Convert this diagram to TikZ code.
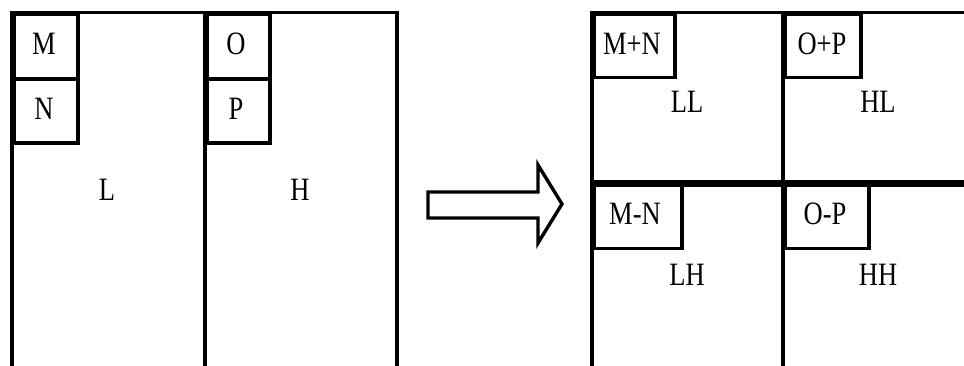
\documentclass[tikz,border=0pt]{standalone}
\usepackage{graphicx}
\usepackage{fontspec}
\setmainfont{Liberation Serif}
\newcommand{\tallrm}[1]{\scalebox{1}[1.23]{#1}}
\tikzset{
  frame/.style={line width=3.8pt, line cap=rect},
  band/.style={line width=6.5pt},
  sub/.style={draw, line width=3.6pt, anchor=north west, inner sep=0pt,
              minimum height=64pt},
  lbl/.style={inner sep=0pt, font=\fontsize{26.5}{30}\selectfont},
}
\begin{document}
\begin{tikzpicture}[x=1pt,y=-1pt]
  \useasboundingbox (0,0) rectangle (964,365);
  \clip (0,0) rectangle (964,365);
  \fill[white] (0,0) rectangle (964,365);

  % source: two bands L and H
  \draw[frame] (12,380) -- (12,12.5) -- (397,12.5) -- (397,380);
  \draw[frame] (205,12.5) -- (205,380);
  \node[sub, minimum width=64pt] (M) at (12,12.5)  {};
  \node[sub, minimum width=64pt] (N) at (12,77)    {};
  \node[sub, minimum width=63pt] (O) at (205,12.5) {};
  \node[sub, minimum width=63pt] (P) at (205,77)   {};
  \node[lbl] (tM) at (44,44)   {\tallrm{M}};
  \node[lbl] (tN) at (44,109)  {\tallrm{N}};
  \node[lbl] (tO) at (236,44)  {\tallrm{O}};
  \node[lbl] (tP) at (236,109) {\tallrm{P}};
  \node[lbl] (tL) at (107,190) {\tallrm{L}};
  \node[lbl] (tH) at (300,190) {\tallrm{H}};

  % block arrow
  \draw[line width=3.4pt, line join=miter]
    (428,192) -- (538,192) -- (538,165) -- (562,204) -- (538,243)
    -- (538,218) -- (428,218) -- cycle;

  % result: four sub-bands
  \draw[frame] (592,380) -- (592,12.5) -- (970,12.5);
  \draw[frame] (783,12.5) -- (783,380);
  \draw[band] (592,183.5) -- (970,183.5);
  \node[sub, minimum width=81pt, minimum height=63pt] (MpN) at (592,12.5)  {};
  \node[sub, minimum width=76pt, minimum height=63pt] (OpP) at (783,12.5)  {};
  \node[sub, minimum width=88pt, minimum height=63pt] (MmN) at (592,183.5) {};
  \node[sub, minimum width=84pt, minimum height=63pt] (OmP) at (783,183.5) {};
  \node[lbl] (tMpN) at (632,44)  {\tallrm{M+N}};
  \node[lbl] (tOpP) at (822,44)  {\tallrm{O+P}};
  \node[lbl] (tMmN) at (635,214) {\tallrm{M-N}};
  \node[lbl] (tOmP) at (825,214) {\tallrm{O-P}};
  \node[lbl] (tLL)  at (687,102) {\tallrm{LL}};
  \node[lbl] (tHL)  at (878,102) {\tallrm{HL}};
  \node[lbl] (tLH)  at (687,275) {\tallrm{LH}};
  \node[lbl] (tHH)  at (878,275) {\tallrm{HH}};
\end{tikzpicture}
\end{document}
